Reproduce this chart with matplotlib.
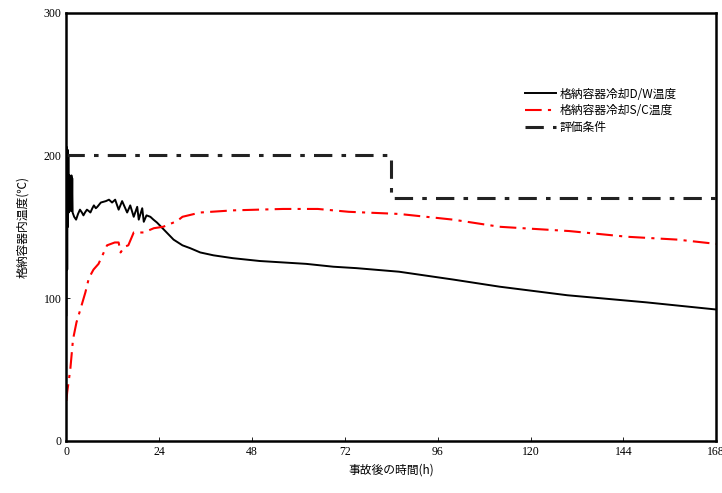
import matplotlib.pyplot as plt

plt.rcParams['font.family'] = ['Liberation Serif', 'Noto Sans CJK JP']

# 格納容器冷却D/W温度 (black solid)
dw_t = [0, 0.1, 0.2, 0.3, 0.4, 0.5, 0.6, 0.8, 1.0, 1.1, 1.2, 1.3, 1.4, 1.5, 1.6,
        2.0, 2.5, 3.0, 3.5, 4.0, 4.4, 4.8, 5.3, 5.8, 6.2, 6.7, 7.1, 7.6, 8.0,
        8.9, 10.2, 11.0, 11.8, 12.6, 13.5, 14.4, 15.7, 16.5, 17.4, 18.3, 18.7,
        19.6, 20.0, 20.7, 21.7, 22.5, 23.4, 25.2, 27.7, 30.0, 32.0, 34.6, 38.0,
        43.0, 50.0, 56.0, 62.0, 69.0, 75.0, 86.0, 100.0, 112.0, 129.5, 150.0,
        168.0]
dw_v = [88, 206, 120, 204, 150, 200, 160, 186, 162, 185, 161, 186, 162, 184, 160,
        157, 155, 159, 162, 160, 158, 160, 162, 161, 160, 163, 165, 163, 164,
        167, 168, 169, 167, 169, 162, 168, 160, 165, 157, 164, 155, 163, 153.5,
        158, 157, 155, 153, 148, 141, 137, 135, 132, 130, 128, 126, 125, 124,
        122, 121, 118.5, 113, 108, 102, 97, 92]

# 格納容器冷却S/C温度 (red dash-dot)
sc_t = [0, 0.2, 1.0, 1.7, 2.6, 3.6, 4.9, 5.8, 7.0, 8.3, 10.5, 12.5, 13.5, 14.0,
        15.0, 16.0, 17.4, 20.0, 22.6, 25.0, 28.6, 30.0, 34.6, 43.0, 56.0, 65.0,
        73.0, 86.0, 100.0, 112.0, 130.0, 145.0, 158.0, 168.0]
sc_v = [28, 34, 50, 71, 83, 92, 104, 114, 120, 124, 137, 139, 139, 132, 136, 137,
        146, 146, 149, 150, 154, 157, 160, 161.5, 162.5, 162.5, 160.5, 159,
        155, 150, 147, 143, 141, 138]

# 評価条件 (black dash-dot)
lim_t = [0, 84, 84, 168]
lim_v = [200, 200, 170, 170]

fig, ax = plt.subplots(figsize=(7.22, 4.93), dpi=100)
fig.subplots_adjust(left=0.092, right=0.992, top=0.974, bottom=0.106)

ax.plot(dw_t, dw_v, color='black', lw=1.4, label='格納容器冷却D/W温度')
ax.plot(sc_t, sc_v, color='red', lw=1.5, dashes=(8, 3, 1.5, 3),
        label='格納容器冷却S/C温度')
ax.plot(lim_t, lim_v, color='#222222', lw=2.2, dashes=(6, 3, 1.5, 3),
        label='評価条件')

ax.set_xlim(0, 168)
ax.set_ylim(0, 300)
ax.set_xticks(range(0, 169, 24))
ax.set_yticks([0, 100, 200, 300])
ax.tick_params(direction='in', length=3, labelsize=8.5, width=0.6)
for s in ax.spines.values():
    s.set_linewidth(1.8)

ax.set_xlabel('事故後の時間(h)', fontsize=8.5, family=['Noto Sans CJK JP'])
ax.set_ylabel('格納容器内温度(℃)', fontsize=8.5, family=['Noto Sans CJK JP'])
ax.yaxis.set_label_coords(-0.058, 0.5)

leg = ax.legend(loc='upper left', bbox_to_anchor=(0.69, 0.85), frameon=False,
                handlelength=2.6, handletextpad=0.3, labelspacing=0.3,
                prop={'family': 'Noto Sans CJK JP', 'size': 8.5})

plt.savefig('out.png')
